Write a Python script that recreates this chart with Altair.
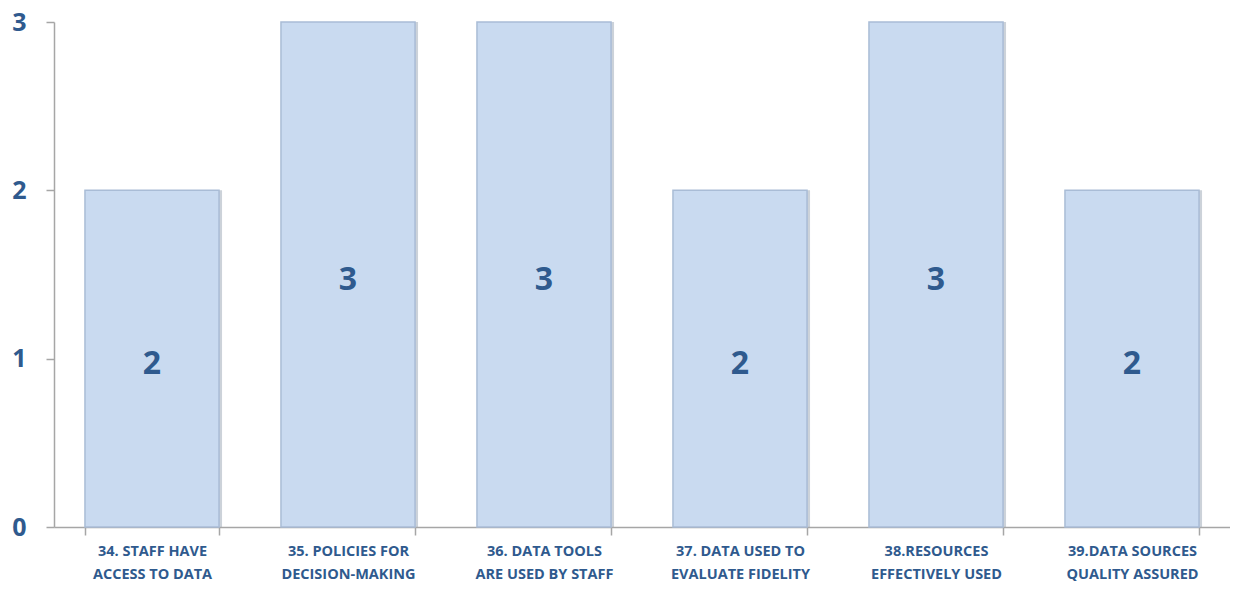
import altair as alt
import pandas as pd

categories = [
    "34. STAFF HAVE|ACCESS TO DATA",
    "35. POLICIES FOR|DECISION-MAKING",
    "36. DATA TOOLS|ARE USED BY STAFF",
    "37. DATA  USED TO|EVALUATE FIDELITY",
    "38.RESOURCES|EFFECTIVELY USED",
    "39.DATA SOURCES|QUALITY ASSURED",
]
values = [2, 3, 3, 2, 3, 2]

df = pd.DataFrame({"cat": categories, "val": values})
df["mid"] = df["val"] / 2

blue = "#2F5A8E"

x = alt.X(
    "cat:N",
    sort=categories,
    title=None,
    scale=alt.Scale(paddingInner=0.316, paddingOuter=0.158),
    axis=alt.Axis(
        labelAngle=0,
        labelExpr="split(datum.label, '|')",
        labelFont="Open Sans",
        labelFontWeight="bold",
        labelFontSize=14.5,
        labelColor=blue,
        labelPadding=9,
        labelLineHeight=23,
        tickBand="extent",
        tickSize=8,
        tickColor="#A6A6A6",
        domainColor="#A6A6A6",
        domainWidth=1.5,
        tickWidth=1.5,
        grid=False,
    ),
)

y_axis = alt.Axis(
    values=[0, 1, 2, 3],
    format="d",
    labelFont="Open Sans",
    labelFontWeight="bold",
    labelFontSize=25,
    labelColor=blue,
    labelPadding=20,
    ticks=True,
    tickSize=8,
    tickColor="#A6A6A6",
    domainColor="#A6A6A6",
    domainWidth=1.5,
    tickWidth=1.5,
    grid=False,
    title=None,
)

yscale = alt.Scale(domain=[0, 3])

shadow = alt.Chart(df).mark_bar(color="#9AA5B4", opacity=0.5, xOffset=3, y2Offset=-1).encode(
    x=x,
    y=alt.Y("val:Q", scale=yscale, axis=y_axis),
)

bars = alt.Chart(df).mark_bar(
    color="#C9DAF0", stroke="#A9BCD6", strokeWidth=1.5
).encode(
    x=x,
    y=alt.Y("val:Q", scale=yscale, axis=y_axis),
)

labels = alt.Chart(df).mark_text(
    font="Open Sans", fontWeight="bold", fontSize=32, color=blue, baseline="middle", dy=5
).encode(
    x=x,
    y=alt.Y("mid:Q", scale=yscale, axis=y_axis),
    text="val:Q",
)

chart = (
    alt.layer(shadow, bars, labels)
    .properties(
        width=1176,
        height=505,
        background="white",
        autosize=alt.AutoSizeParams(type="none"),
        padding={"left": 46, "top": 14, "right": 0, "bottom": 54},
    )
    .configure_view(strokeWidth=0, stroke="transparent")
    .configure_axis(grid=False)
)

chart.save("out.html", embed_options={"renderer": "svg", "actions": False})
